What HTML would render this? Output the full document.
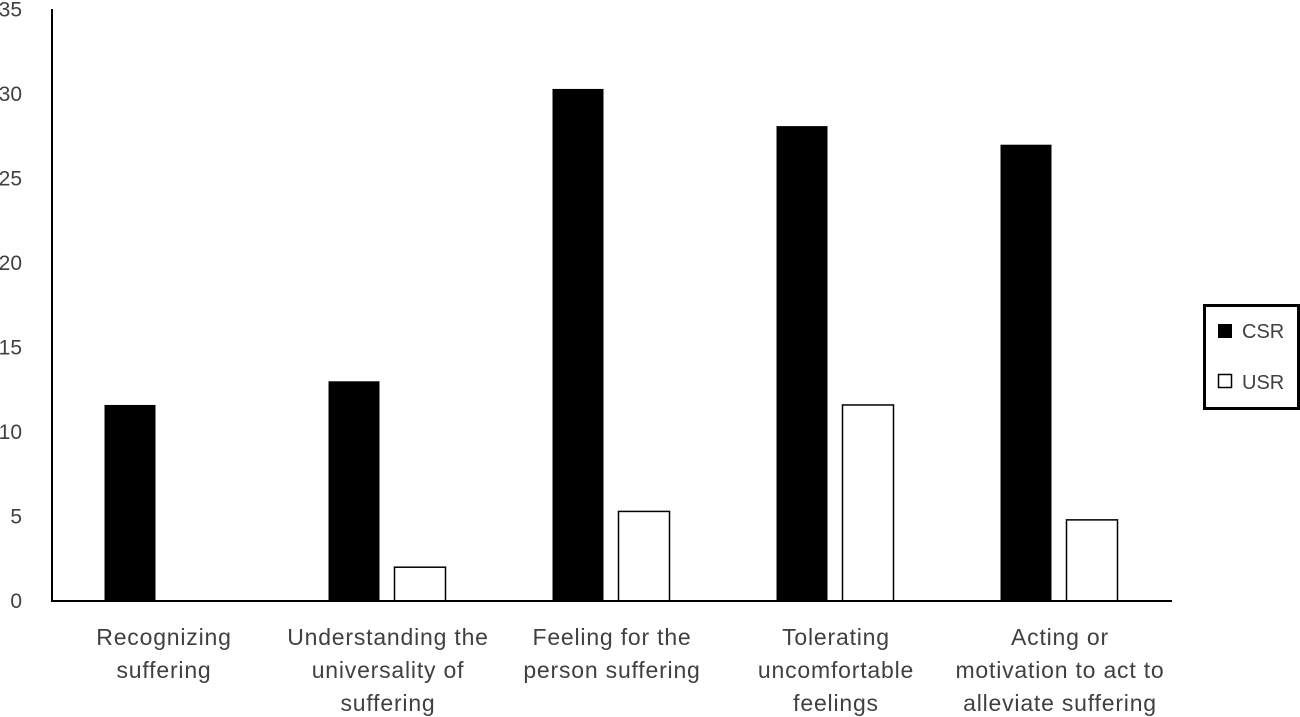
<!DOCTYPE html>
<html><head><meta charset="utf-8"><style>
html,body{margin:0;padding:0;background:#fff;}
svg{display:block;font-family:"Liberation Sans",Calibri,sans-serif;}
</style></head><body>
<svg id="chart" width="1300" height="717" viewBox="0 0 1300 717">
<g id="yticks"></g>
<g id="bars"></g>
<line x1="52" y1="9" x2="52" y2="602" stroke="#000" stroke-width="2"/>
<line x1="51" y1="601" x2="1172" y2="601" stroke="#000" stroke-width="2"/>
<g id="xlabels"></g>
<g>
<rect x="1204.5" y="305.5" width="94" height="103" fill="#fff" stroke="#000" stroke-width="3"/>
<g>
<rect x="1218" y="324" width="14" height="14" fill="#000"/>
<text x="1242" y="338" font-size="20" fill="#404040">CSR</text></g>
<g>
<rect x="1218.5" y="374.5" width="13" height="13" fill="#fff" stroke="#000" stroke-width="1.5"/>
<text x="1242" y="389" font-size="20" fill="#404040">USR</text></g>
</g>
</svg>
<script>
const categories=[["Recognizing","suffering"],["Understanding the","universality of","suffering"],["Feeling for the","person suffering"],["Tolerating","uncomfortable","feelings"],["Acting or","motivation to act to","alleviate suffering"]];
const csrValues=[11.6,13.0,30.3,28.1,27.0];
const usrValues=[0,2.0,5.3,11.6,4.8];
const yTicks=[0,5,10,15,20,25,30,35];
const NS="http://www.w3.org/2000/svg";
const x0=52,x1=1172,y0=601,pxPerUnit=16.9;
const band=(x1-x0)/categories.length;
function yScale(v){return y0-v*pxPerUnit;}
function xCenter(i){return x0+band*(i+0.5);}
const yt=document.getElementById('yticks');
yTicks.forEach(t=>{const e=document.createElementNS(NS,'text');


e.setAttribute('x',22);e.setAttribute('y',yScale(t)+7);e.setAttribute('text-anchor','end');
e.setAttribute('font-size','21');e.setAttribute('fill','#404040');e.textContent=t;yt.appendChild(e);});
const bg=document.getElementById('bars');
function bar(x,v,fill,name){const r=document.createElementNS(NS,'rect');


r.setAttribute('x',x);r.setAttribute('y',yScale(v));r.setAttribute('width',51);r.setAttribute('height',Math.max(0,v*pxPerUnit));
r.setAttribute('fill',fill);if(fill==='#fff'){r.setAttribute('stroke','#000');r.setAttribute('stroke-width','1.5');}
bg.appendChild(r);}
categories.forEach((c,i)=>{const cx=xCenter(i);
bar(cx-59.5,csrValues[i],'#000','bar-csr');
if(usrValues[i]>0)bar(cx+6.5,usrValues[i],'#fff','bar-usr');
const xl=document.getElementById('xlabels');
c.forEach((line,j)=>{const e=document.createElementNS(NS,'text');


e.setAttribute('x',cx);e.setAttribute('y',645+j*33);e.setAttribute('text-anchor','middle');
e.setAttribute('font-size','23');e.setAttribute('letter-spacing','0.8');e.setAttribute('fill','#404040');e.textContent=line;xl.appendChild(e);});
});
</script>
</body></html>
